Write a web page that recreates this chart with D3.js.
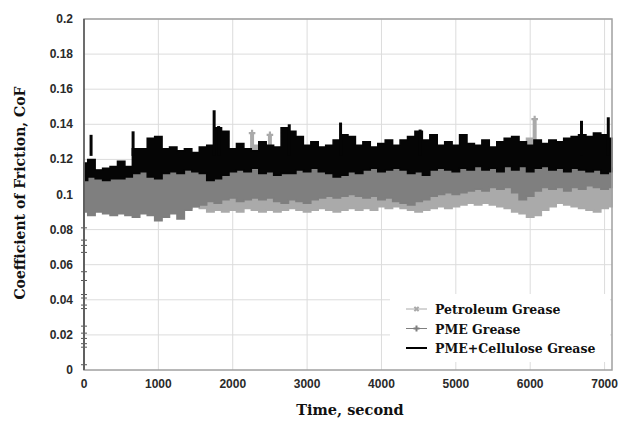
<!DOCTYPE html>
<html>
<head>
<meta charset="utf-8">
<script src="https://cdn.jsdelivr.net/npm/d3@7"></script>
<style>
  body { margin: 0; background: #fff; }
  svg { display: block; }
</style>
</head>
<body>
<div id="chart"></div>
<script>

// sample times (s), one envelope reading every 100 s
var times = d3.range(0, 7101, 100);

// PME+Cellulose Grease envelope (upper / lower CoF)
var celluloseHi = [0.118,0.120,0.114,0.115,0.116,0.119,0.116,0.126,0.126,0.132,0.133,0.126,0.127,0.125,0.126,0.124,0.127,0.128,0.138,0.136,
  0.126,0.129,0.126,0.125,0.130,0.128,0.127,0.138,0.136,0.133,0.128,0.130,0.127,0.128,0.131,0.134,0.133,0.128,0.130,0.127,
  0.129,0.131,0.128,0.131,0.133,0.136,0.131,0.134,0.128,0.130,0.128,0.134,0.129,0.128,0.131,0.127,0.130,0.132,0.133,0.130,
  0.128,0.131,0.129,0.131,0.130,0.132,0.133,0.134,0.133,0.135,0.134,0.132];
var celluloseLo = [0.108,0.110,0.109,0.108,0.109,0.109,0.110,0.112,0.113,0.110,0.109,0.112,0.113,0.112,0.114,0.113,0.112,0.108,0.109,0.111,
  0.113,0.114,0.113,0.115,0.112,0.113,0.111,0.112,0.112,0.114,0.113,0.115,0.113,0.112,0.110,0.111,0.113,0.112,0.114,0.115,
  0.113,0.114,0.115,0.114,0.112,0.113,0.111,0.114,0.115,0.114,0.113,0.115,0.114,0.116,0.114,0.115,0.113,0.116,0.114,0.116,
  0.113,0.115,0.116,0.114,0.115,0.113,0.115,0.114,0.113,0.114,0.112,0.113];
var celluloseSpikes = [[95,0.134],[660,0.136],[1750,0.148],[1810,0.139],[2760,0.140],[3450,0.141],[4520,0.137],[6690,0.142],[7050,0.144]];

// PME Grease envelope
var pmeHi = [0.110,0.111,0.110,0.111,0.112,0.111,0.110,0.112,0.113,0.112,0.111,0.112,0.113,0.112,0.113,0.114,0.113,0.112,0.112,0.113,
  0.114,0.114,0.113,0.114,0.114,0.113,0.112,0.113,0.114,0.115,0.114,0.115,0.114,0.113,0.113,0.113,0.114,0.114,0.115,0.116,
  0.115,0.115,0.116,0.116,0.114,0.115,0.114,0.115,0.116,0.116,0.115,0.116,0.116,0.117,0.116,0.116,0.115,0.117,0.116,0.117,
  0.116,0.116,0.117,0.116,0.116,0.115,0.116,0.116,0.115,0.116,0.115,0.115];
var pmeLo = [0.090,0.088,0.090,0.089,0.088,0.089,0.088,0.087,0.089,0.088,0.085,0.087,0.089,0.086,0.091,0.093,0.094,0.096,0.095,0.097,
  0.098,0.096,0.097,0.098,0.097,0.098,0.096,0.095,0.097,0.096,0.095,0.097,0.098,0.099,0.098,0.099,0.100,0.099,0.098,0.099,
  0.097,0.098,0.096,0.095,0.094,0.096,0.097,0.099,0.100,0.101,0.100,0.101,0.102,0.103,0.102,0.104,0.103,0.104,0.101,0.097,
  0.099,0.102,0.104,0.103,0.104,0.102,0.104,0.103,0.105,0.104,0.103,0.104];
// run-in readings at t = 0
var pmeStart = [0.003,0.013,0.015,0.018,0.021,0.025,0.035,0.037,0.041,0.043,0.051,0.056,0.067,0.071,0.074,0.081];

// Petroleum Grease envelope
var petroHi = [0.112,0.113,0.114,0.113,0.114,0.113,0.115,0.116,0.117,0.116,0.115,0.116,0.117,0.116,0.115,0.116,0.117,0.118,0.117,0.116,
  0.116,0.117,0.122,0.128,0.121,0.127,0.119,0.117,0.116,0.115,0.116,0.115,0.114,0.115,0.114,0.115,0.114,0.115,0.114,0.114,
  0.113,0.114,0.113,0.114,0.113,0.114,0.113,0.114,0.113,0.114,0.114,0.115,0.114,0.115,0.114,0.115,0.114,0.115,0.116,0.120,
  0.132,0.130,0.118,0.116,0.115,0.116,0.115,0.116,0.115,0.116,0.115,0.115];
var petroLo = [0.092,0.092,0.092,0.092,0.092,0.092,0.092,0.092,0.092,0.092,0.092,0.092,0.092,0.092,0.092,0.093,0.092,0.090,0.091,0.090,
  0.091,0.090,0.092,0.091,0.090,0.091,0.090,0.091,0.092,0.091,0.090,0.091,0.092,0.091,0.090,0.091,0.092,0.091,0.092,0.091,
  0.093,0.092,0.093,0.092,0.091,0.090,0.091,0.092,0.093,0.092,0.093,0.094,0.095,0.094,0.095,0.094,0.093,0.092,0.090,0.089,
  0.087,0.088,0.091,0.093,0.095,0.094,0.093,0.092,0.091,0.090,0.092,0.093];
var petroSpikes = [[2260,0.135],[2500,0.134],[6060,0.143]];

var xTicks = [0,1000,2000,3000,4000,5000,6000,7000];
var yTicks = [0,0.02,0.04,0.06,0.08,0.1,0.12,0.14,0.16,0.18,0.2];
var seriesNames = ["Petroleum Grease","PME Grease","PME+Cellulose Grease"];
var seriesColors = ["#aaaaaa","#7f7f7f","#000000"];

var width = 619, height = 421;
var svg = d3.select("#chart").append("svg")
  .attr("width", width)
  .attr("height", height);

var x = d3.scaleLinear().domain([0, 7100]).range([84, 612]);
var y = d3.scaleLinear().domain([0, 0.2]).range([370, 19]);

// grid
svg.append("g").selectAll("line.gy")
  .data(yTicks.slice(1))
  .enter().append("line")
  .attr("x1", x(0)).attr("x2", x(7100))
  .attr("y1", function(d){ return y(d) }).attr("y2", function(d){ return y(d) })
  .style("stroke", "#dcdcdc").style("stroke-width", 1);
svg.append("g").selectAll("line.gx")
  .data(xTicks.slice(1))
  .enter().append("line")
  .attr("x1", function(d){ return x(d) }).attr("x2", function(d){ return x(d) })
  .attr("y1", y(0)).attr("y2", y(0.2))
  .style("stroke", "#dcdcdc").style("stroke-width", 1);

// bands
function band(hi, lo){
  return d3.area()
    .x(function(d, i){ return x(times[i]) })
    .y0(function(d, i){ return y(lo[i]) })
    .y1(function(d, i){ return y(hi[i]) })
    .curve(d3.curveStep)(hi);
}

var plot = svg.append("g");

plot.append("path").attr("d", band(petroHi, petroLo))
  .attr("fill", seriesColors[0]).style("stroke", seriesColors[0]).style("stroke-width", 1.5);
plot.selectAll("line.ps")
  .data(petroSpikes).enter().append("line")
  .attr("x1", function(d){ return x(d[0]) }).attr("x2", function(d){ return x(d[0]) })
  .attr("y1", function(d){ return y(0.118) }).attr("y2", function(d){ return y(d[1]) })
  .style("stroke", seriesColors[0]).style("stroke-width", 4);
plot.selectAll("path.pm")
  .data(petroSpikes).enter().append("path")
  .attr("transform", function(d){ return "translate(" + x(d[0]) + "," + y(d[1]) + ")" })
  .attr("d", d3.symbol(d3.symbolCross, 24))
  .attr("fill", seriesColors[0]);

plot.append("path").attr("d", band(pmeHi, pmeLo))
  .attr("fill", seriesColors[1]).style("stroke", seriesColors[1]).style("stroke-width", 1.5);

plot.append("path").attr("d", band(celluloseHi, celluloseLo))
  .attr("fill", "#050505").style("stroke", "#050505").style("stroke-width", 1.5);
plot.selectAll("line.cs")
  .data(celluloseSpikes).enter().append("line")
  .attr("x1", function(d){ return x(d[0]) }).attr("x2", function(d){ return x(d[0]) })
  .attr("y1", function(d){ return y(0.122) }).attr("y2", function(d){ return y(d[1]) })
  .style("stroke", "#050505").style("stroke-width", 3);

// run-in at t = 0
plot.append("line")
  .attr("x1", x(0)).attr("x2", x(0))
  .attr("y1", y(0)).attr("y2", y(0.11))
  .style("stroke", "#333").style("stroke-width", 2);
plot.selectAll("line.st")
  .data(pmeStart).enter().append("line")
  .attr("x1", x(0) - 3).attr("x2", x(0) + 3)
  .attr("y1", function(d){ return y(d) }).attr("y2", function(d){ return y(d) })
  .style("stroke", "#555").style("stroke-width", 1);

// frame
svg.append("rect")
  .attr("x", x(0)).attr("y", y(0.2))
  .attr("width", x(7100) - x(0)).attr("height", y(0) - y(0.2))
  .attr("fill", "none").style("stroke", "#a0a0a0").style("stroke-width", 1.5);
svg.append("line")
  .attr("x1", x(0)).attr("x2", x(0)).attr("y1", y(0)).attr("y2", y(0.2))
  .style("stroke", "#555").style("stroke-width", 1.5);

// axes labels
svg.append("g").selectAll("text.yt")
  .data(yTicks).enter().append("text")
  .attr("x", 73).attr("y", function(d){ return y(d) + 4 })
  .attr("text-anchor", "end")
  .style("font-family", "Liberation Sans, Arial, sans-serif")
  .style("font-weight", "bold").style("font-size", "12px").style("fill", "#2a2a2a")
  .text(function(d){ return d3.format("~g")(d) });

svg.append("g").selectAll("text.xt")
  .data(xTicks).enter().append("text")
  .attr("x", function(d){ return x(d) }).attr("y", 388)
  .attr("text-anchor", "middle")
  .style("font-family", "Liberation Sans, Arial, sans-serif")
  .style("font-weight", "bold").style("font-size", "12px").style("fill", "#2a2a2a")
  .text(function(d){ return d });

svg.append("text")
  .attr("x", 350).attr("y", 415)
  .attr("text-anchor", "middle")
  .style("font-family", "DejaVu Serif, serif")
  .style("font-weight", "bold").style("font-size", "14.5px").style("fill", "#111")
  .text("Time, second");

svg.append("text")
  .attr("transform", "translate(25,193) rotate(-90)")
  .attr("text-anchor", "middle")
  .style("font-family", "DejaVu Serif, serif")
  .style("font-weight", "bold").style("font-size", "14px").style("fill", "#111")
  .text("Coefficient of Friction, CoF");

// legend
var legend = svg.append("g");
legend.append("rect")
  .attr("x", 390).attr("y", 294).attr("width", 220).attr("height", 68)
  .attr("fill", "#fff");
var entry = legend.selectAll("g.le")
  .data(seriesNames).enter().append("g")
  .attr("transform", function(d, i){ return "translate(406," + (309 + i * 19.5) + ")" });
entry.append("line")
  .attr("x1", 0).attr("x2", 21).attr("y1", 0).attr("y2", 0)
  .style("stroke", function(d, i){ return seriesColors[i] })
  .style("stroke-width", function(d, i){ return i == 2 ? 2 : 1 });
entry.filter(function(d, i){ return i < 2 }).append("path")
  .attr("transform", function(d, i){ return "translate(10.5,0)" + (i == 0 ? " rotate(45)" : "") })
  .attr("d", d3.symbol(d3.symbolCross, 20))
  .attr("fill", function(d, i){ return seriesColors[i] });
entry.append("text")
  .attr("x", 29).attr("y", 5)
  .style("font-family", "DejaVu Serif, serif")
  .style("font-weight", "bold").style("font-size", "12.5px").style("fill", "#111")
  .text(function(d){ return d });

</script>
</body>
</html>
